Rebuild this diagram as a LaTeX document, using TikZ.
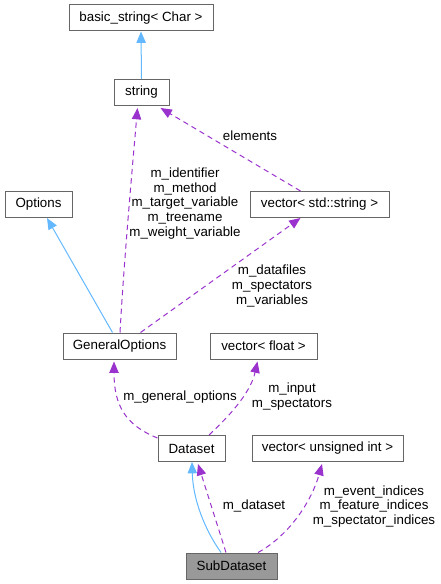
\documentclass[tikz,border=0pt]{standalone}
\usepackage{fontspec}
\setmainfont{Liberation Sans}
\usepackage{xcolor}
\usepackage{tikz}
\usetikzlibrary{calc,arrows.meta}

\definecolor{edgeblue}{HTML}{63B8FF}
\definecolor{edgepurple}{HTML}{9A32CD}
\definecolor{boxgray}{HTML}{666666}

\tikzset{
	cls/.style={draw=boxgray, line width=0.75pt, minimum height=19.5pt, inner sep=0pt, font=\fontsize{10}{11}\selectfont},
	inherit/.style={draw=edgeblue, line width=0.75pt, -{Triangle[length=8.5pt,width=7pt]}, edgeblue},
	usage/.style={draw=edgepurple, line width=0.75pt, dash pattern=on 4pt off 3pt, -{Triangle[length=8.5pt,width=7pt]}, edgepurple},
	lbl/.style={align=center, inner sep=0pt, font=\fontsize{10}{11}\selectfont}
}

\begin{document}
\begin{tikzpicture}[x=0.75pt,y=-0.75pt]
			\useasboundingbox (0,0) rectangle (441,584);

			\node[cls, minimum width=108pt] (basicstring) at (141,18) {basic\_string< Char >};
			\node[cls, minimum width=41.25pt] (string) at (141.5,92.5) {string};
			\node[cls, minimum width=50.25pt] (options) at (38.5,204.5) {Options};
			\node[cls, minimum width=104.25pt] (vecstring) at (319.5,204.5) {vector< std::string >};
			\node[cls, minimum width=84.75pt] (genopts) at (119.5,346) {GeneralOptions};
			\node[cls, minimum width=80.25pt] (vecfloat) at (263.5,346) {vector< float >};
			\node[cls, minimum width=50.25pt] (dataset) at (191.5,448.5) {Dataset};
			\node[cls, minimum width=113.25pt] (vecuint) at (327.5,448.5) {vector< unsigned int >};
			\node[cls, minimum width=68.25pt, fill=gray!80] (subdataset) at (231.5,566) {SubDataset};

			\node[lbl] (lelements) at (250,136) {elements};
			\node[lbl] (lgenmembers) at (185,203.5) {m\_identifier\\m\_method\\m\_target\_variable\\m\_treename\\m\_weight\_variable};
			\node[lbl] (lvecmembers) at (272,286) {m\_datafiles\\m\_spectators\\m\_variables};
			\node[lbl] (lgeneral) at (180,397) {m\_general\_options};
			\node[lbl] (linput) at (292,396.5) {m\_input\\m\_spectators};
			\node[lbl] (ldataset) at (254,506) {m\_dataset};
			\node[lbl] (lindices) at (374,506.5) {m\_event\_indices\\m\_feature\_indices\\m\_spectator\_indices};

			\draw[inherit] (string.north) -- (basicstring.south);
			\draw[usage] ($(vecstring.north)+(-19,0)$) -- ($(string.south east)+(-9,2)$);
			\draw[usage] ($(genopts.north)+(0.5,0)$) .. controls (124,260) and (133,160) .. ($(string.south)+(-4,2)$);
			\draw[inherit] ($(genopts.north)+(-7,0)$) -- ($(options.south)+(8.5,0)$);
			\draw[usage] ($(genopts.north)+(21,0)$) -- ($(vecstring.south)+(-19,0)$);
			\draw[usage] ($(dataset.north west)+(0,3)$) .. controls (125,425) and (114,405) .. ($(genopts.south)+(-5.5,2)$);
			\draw[usage] ($(dataset.north)+(17.5,0)$) .. controls (225,420) and (250,395) .. ($(vecfloat.south)+(-6,2)$);
			\draw[inherit] ($(subdataset.north)+(-10.5,0)$) .. controls (205,530) and (193,500) .. ($(dataset.south)+(0.5,0)$);
			\draw[usage] ($(subdataset.north)+(-5.5,0)$) -- ($(dataset.south)+(6.5,2)$);
			\draw[usage] ($(subdataset.north)+(26.5,0)$) .. controls (290,535) and (312,500) .. ($(vecuint.south)+(-5.5,2)$);
		\end{tikzpicture}
\end{document}
